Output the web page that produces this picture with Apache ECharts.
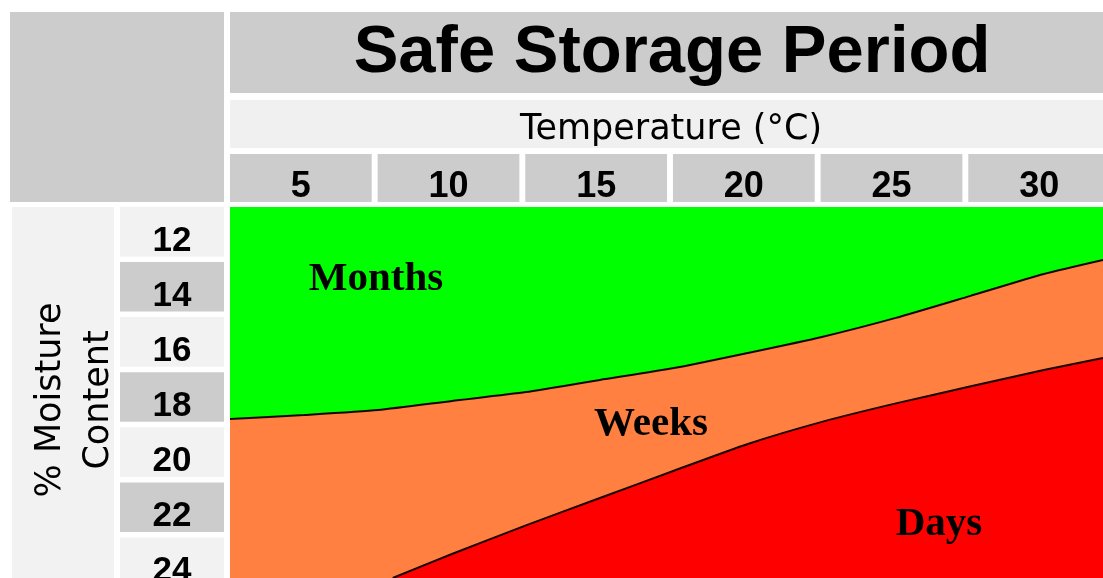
<!DOCTYPE html>
<html>
<head>
<meta charset="utf-8">
<script src="https://cdn.jsdelivr.net/npm/echarts@6/dist/echarts.min.js"></script>
<style>
html,body{margin:0;padding:0;background:#fff;}
#main{width:1103px;height:578px;}
</style>
</head>
<body>
<div id="main"></div>
<script>
// column / row headings
var tempLabels = ['5', '10', '15', '20', '25', '30'];
var moistureLabels = ['12', '14', '16', '18', '20', '22', '24'];

// boundary Months / Weeks (temperature °C, moisture %)
var upperTemp = [2.5, 5, 7.5, 10, 12.5, 15, 17.5, 20, 22.5, 25, 27.5, 30, 32];
var upperMoist = [18.69, 18.54, 18.36, 18.03, 17.71, 17.27, 16.84, 16.29, 15.71, 15.02, 14.23, 13.43, 12.92];

// boundary Weeks / Days
var lowerTemp = [8, 10, 12.5, 15, 17.5, 20, 22.5, 25, 27.5, 30, 32];
var lowerMoist = [24.45, 23.58, 22.54, 21.55, 20.56, 19.59, 18.79, 18.12, 17.51, 16.91, 16.47];

var zoneNames = ['Months', 'Weeks', 'Days'];

function pairs(xs, ys) {
    var res = [];
    for (var i = 0; i < xs.length; i++) {
        res.push([xs[i], ys[i]]);
    }
    return res;
}

var myChart = echarts.init(document.getElementById('main'));

var zoneFont = 'bold 41px "Liberation Serif", "Times New Roman", serif';

var option = {
    animation: false,
    grid: [
        // plot
        {left: 230, right: 0, top: 207, bottom: 0, show: true, backgroundColor: '#00ff00', borderWidth: 0, outerBoundsMode: 'none'},
        // temperature header cells
        {left: 227, top: 154, height: 48, width: 886, outerBoundsMode: 'none'},
        // moisture row cells
        {left: 120, top: 204, width: 104, height: 386, outerBoundsMode: 'none'}
    ],
    xAxis: [
        {gridIndex: 0, type: 'value', min: 2.5, max: 32, show: false},
        {gridIndex: 1, type: 'category', data: tempLabels, show: false},
        {gridIndex: 2, type: 'value', min: 0, max: 1, show: false}
    ],
    yAxis: [
        {gridIndex: 0, type: 'value', min: 11, max: 24.45, inverse: true, show: false},
        {gridIndex: 1, type: 'value', min: 0, max: 1, show: false},
        {gridIndex: 2, type: 'category', data: moistureLabels, inverse: true, show: false}
    ],
    series: [
        {
            name: 'Weeks',
            type: 'line',
            xAxisIndex: 0,
            yAxisIndex: 0,
            data: pairs(upperTemp, upperMoist),
            symbol: 'none',
            smooth: 0.2,
            lineStyle: {color: '#1a0800', width: 2},
            areaStyle: {color: '#ff8040', opacity: 1, origin: 'end'},
            z: 2
        },
        {
            name: 'Days',
            type: 'line',
            xAxisIndex: 0,
            yAxisIndex: 0,
            data: pairs(lowerTemp, lowerMoist),
            symbol: 'none',
            smooth: 0.2,
            lineStyle: {color: '#1a0000', width: 2},
            areaStyle: {color: '#ff0000', opacity: 1, origin: 'end'},
            z: 3
        },
        {
            type: 'bar',
            xAxisIndex: 1,
            yAxisIndex: 1,
            data: tempLabels.map(function () { return 1; }),
            barCategoryGap: '4%',
            itemStyle: {color: '#cccccc'},
            label: {
                show: true,
                position: 'insideBottom',
                distance: -3,
                formatter: '{b}',
                color: '#000',
                fontSize: 36,
                fontWeight: 'bold',
                fontFamily: '"Liberation Sans", Arial, sans-serif'
            }
        },
        {
            type: 'bar',
            xAxisIndex: 2,
            yAxisIndex: 2,
            data: moistureLabels.map(function (v, i) {
                return {value: 1, itemStyle: {color: i % 2 ? '#cccccc' : '#f2f2f2'}};
            }),
            barCategoryGap: '10%',
            label: {
                show: true,
                position: 'insideBottom',
                distance: -2,
                formatter: '{b}',
                color: '#000',
                fontSize: 35,
                fontWeight: 'bold',
                fontFamily: '"Liberation Sans", Arial, sans-serif'
            }
        }
    ],
    graphic: [
        {type: 'rect', shape: {x: 10, y: 12, width: 214, height: 190}, style: {fill: '#cccccc'}, z: 0},
        {type: 'rect', shape: {x: 230, y: 12, width: 873, height: 81}, style: {fill: '#cccccc'}, z: 0},
        {type: 'rect', shape: {x: 230, y: 100, width: 873, height: 48}, style: {fill: '#f0f0f0'}, z: 0},
        {type: 'rect', shape: {x: 12, y: 207, width: 102, height: 371}, style: {fill: '#f2f2f2'}, z: 0},
        {
            type: 'text', x: 672, y: 54, z: 10,
            style: {
                text: 'Safe Storage Period', fill: '#000', align: 'center', verticalAlign: 'middle',
                font: 'bold 67px "Liberation Sans", Arial, sans-serif'
            }
        },
        {
            type: 'text', x: 671, y: 130, z: 10,
            style: {
                text: 'Temperature (°C)', fill: '#000', align: 'center', verticalAlign: 'middle',
                font: '35px "DejaVu Sans", sans-serif'
            }
        },
        {
            type: 'text', x: 75, y: 400, rotation: Math.PI / 2, z: 10,
            style: {
                text: '% Moisture\nContent', fill: '#000', align: 'center', verticalAlign: 'middle',
                lineHeight: 48, font: '35px "DejaVu Sans", sans-serif'
            }
        },
        {
            type: 'text', x: 376, y: 279, z: 10,
            style: {text: zoneNames[0], fill: '#000', align: 'center', verticalAlign: 'middle', font: zoneFont}
        },
        {
            type: 'text', x: 651, y: 424, z: 10,
            style: {text: zoneNames[1], fill: '#000', align: 'center', verticalAlign: 'middle', font: zoneFont}
        },
        {
            type: 'text', x: 939, y: 524, z: 10,
            style: {text: zoneNames[2], fill: '#000', align: 'center', verticalAlign: 'middle', font: zoneFont}
        }
    ]
};

myChart.setOption(option);
</script>
</body>
</html>
